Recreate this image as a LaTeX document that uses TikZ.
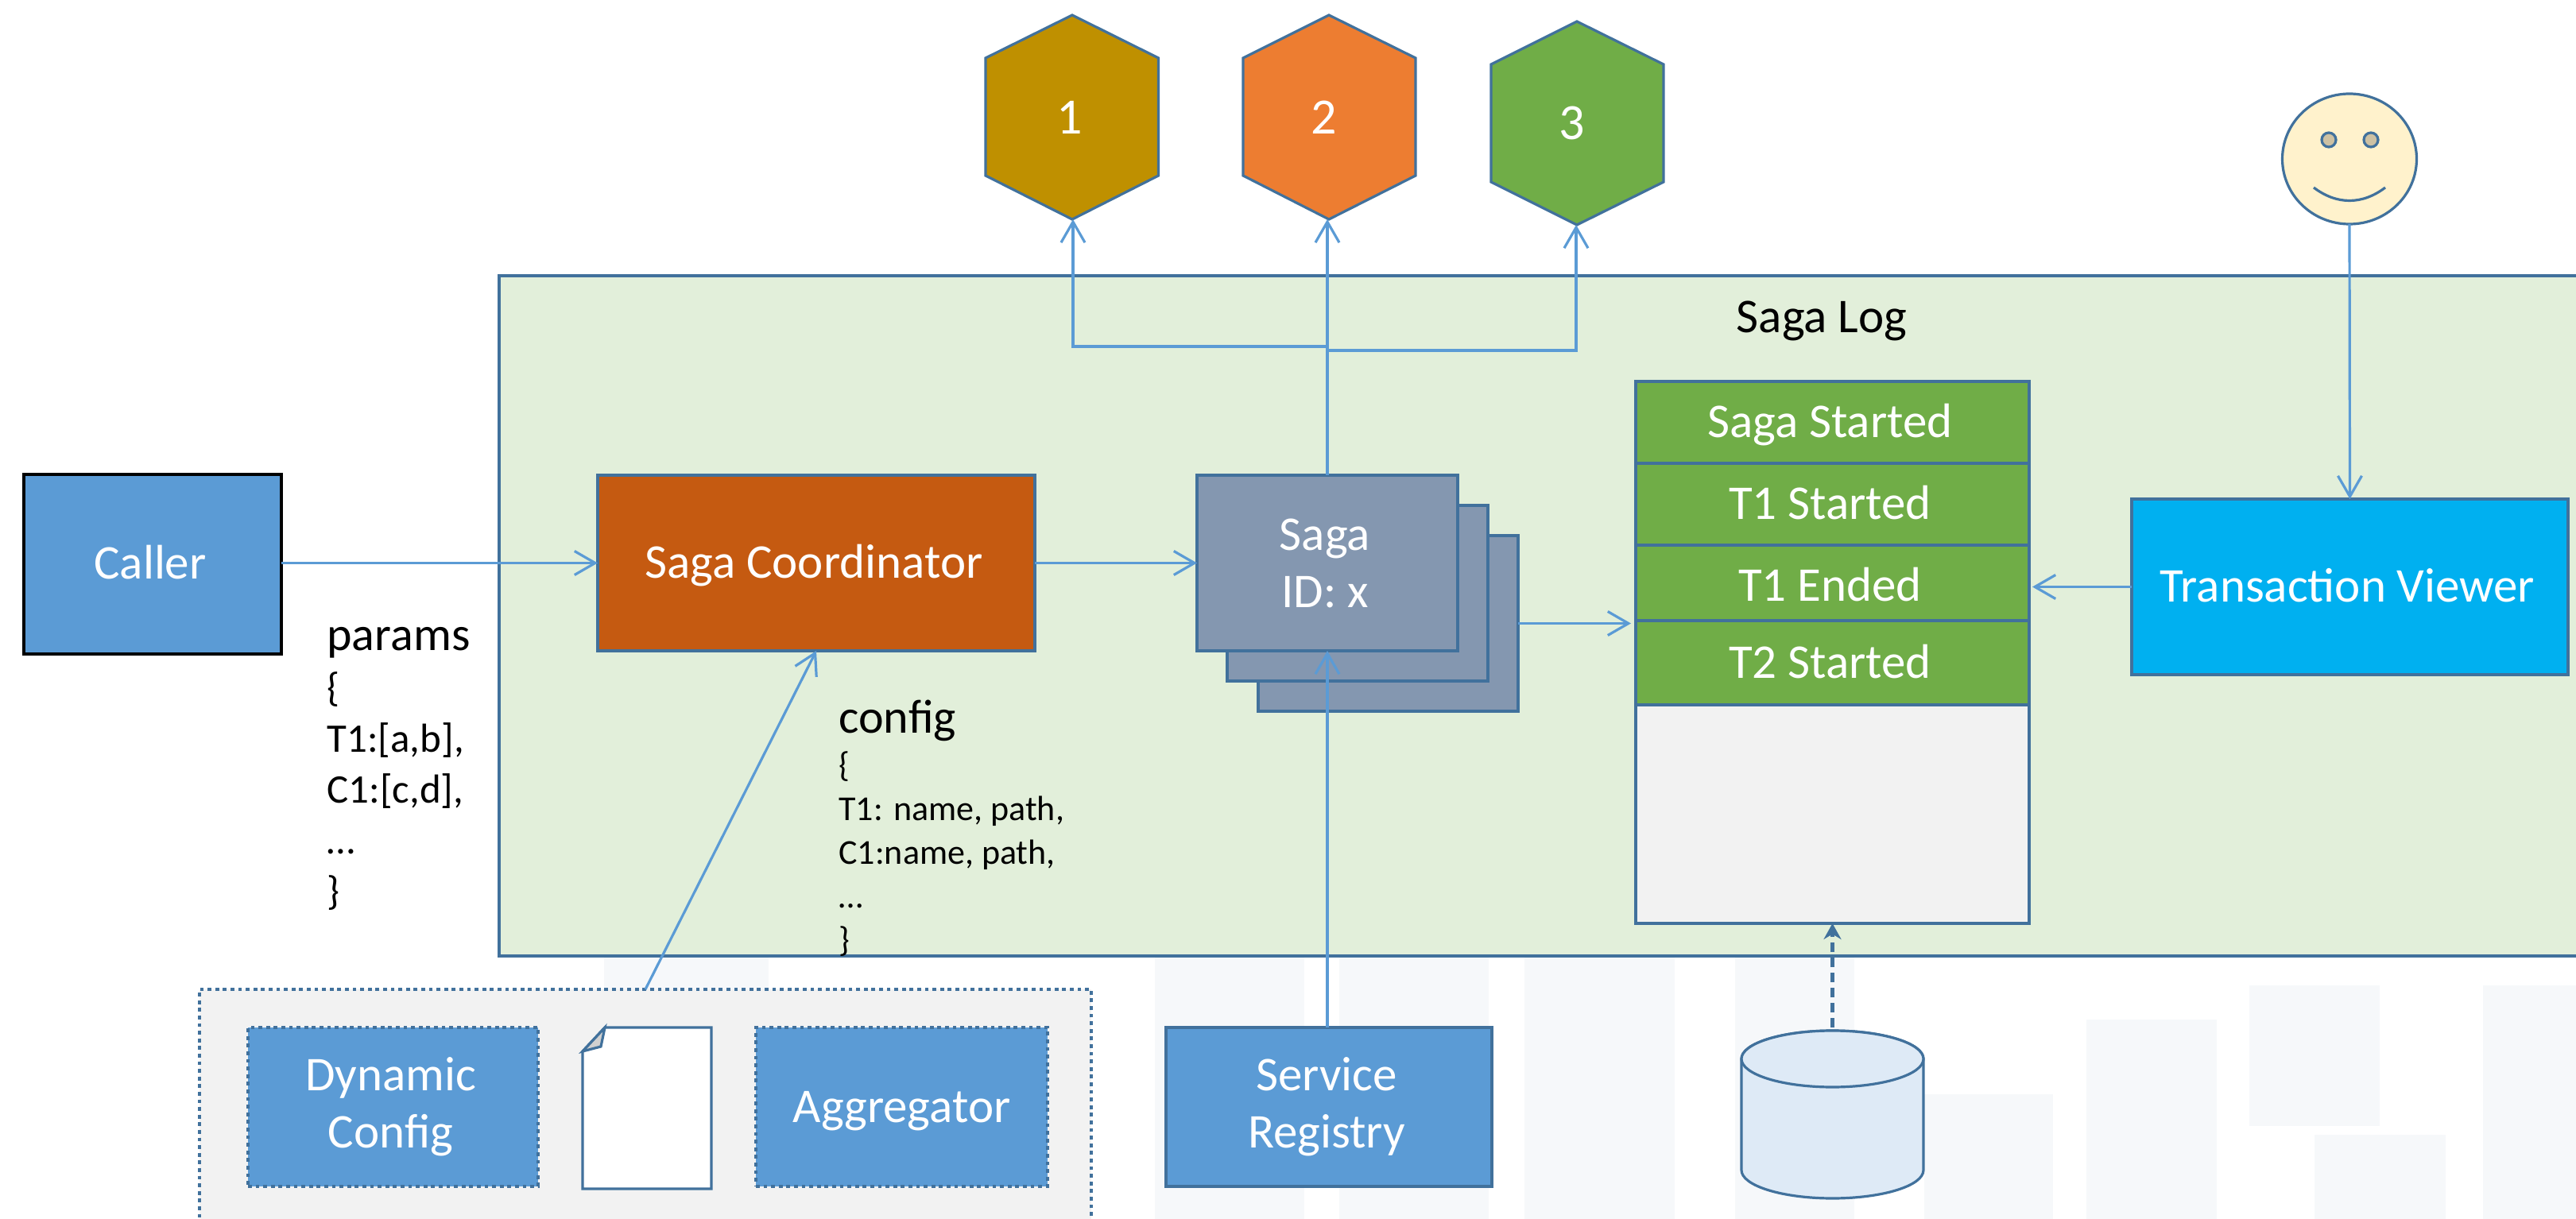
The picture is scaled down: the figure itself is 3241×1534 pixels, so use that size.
\documentclass[tikz,border=0pt]{standalone}
\usepackage{fontspec}
\setmainfont{Carlito}
\usetikzlibrary{arrows.meta,shapes.geometric}
\definecolor{bd}{HTML}{41719C}
\definecolor{ln}{HTML}{5B9BD5}
\definecolor{wm}{HTML}{F6F8FA}
\definecolor{saga}{HTML}{8497B0}
\definecolor{hexa}{HTML}{BF9000}
\definecolor{hexb}{HTML}{ED7D31}
\definecolor{hexc}{HTML}{70AD47}
\definecolor{areac}{HTML}{E2EFDA}
\definecolor{coordc}{HTML}{C55A11}
\definecolor{lightg}{HTML}{F2F2F2}
\definecolor{tvc}{HTML}{00B0F0}
\definecolor{facec}{HTML}{FFF2CC}
\definecolor{eyec}{HTML}{CDC1A3}
\definecolor{foldc}{HTML}{D0D0D0}
\definecolor{dbc}{HTML}{DEEAF6}
\newcommand{\tsh}[1]{#1\hspace*{3pt}}
\tikzset{
  x=0.5pt,y=-0.5pt,
  base/.style={draw=bd,line width=1.6pt,inner sep=0pt,outer sep=0pt,rectangle},
  boxed/.style={base,text=white,font=\fontsize{30.5}{36}\selectfont,align=center},
  oneline/.style={text height=19pt,text depth=0pt},
  bluebox/.style={boxed,fill=ln},
  dotbox/.style={bluebox,dash pattern=on 2.4pt off 2.4pt},
  sagabox/.style={boxed,fill=saga},
  rowbox/.style={boxed,oneline,fill=hexc,minimum width=247.5pt},
  hexshape/.style={draw=bd,line width=1.6pt},
  digit/.style={text=white,font=\fontsize{32}{36}\selectfont,inner sep=0pt},
  conn/.style={draw=ln,line width=1.6pt,-{Straight Barb[length=13pt,width=15pt,line width=1.6pt]}},
  note/.style={text=black,inner sep=0pt,align=left},
  bar/.style={fill=wm,draw=none},
}
\begin{document}
\begin{tikzpicture}
\path[use as bounding box,clip] (0,0) rectangle (3241,1534);
% watermark
\foreach \a/\b/\c/\d in {760/967/1200/1245,1453/1641/1200/1534,1685/1873/1200/1534,1918/2107/1200/1534,2183/2333/1200/1534,2421/2583/1377/1534,2625/2789/1283/1534,2830/2994/1240/1417,2912/3077/1428/1534,3124/3241/1240/1534}
  \fill[bar] (\a,\c) rectangle (\b,\d);
% saga log area
\node[base,fill=areac,minimum width=1336pt,minimum height=428pt] (area) at (1964,775) {};
\node[anchor=base,inner sep=0pt,font=\fontsize{30.5}{36}\selectfont] (arealabel) at (2292,419) {Saga Log};
% hexagons
\draw[hexshape,fill=hexa] (1349,19)--(1457.5,73)--(1457.5,221)--(1349,276)--(1240,221)--(1240,73)--cycle;
\draw[hexshape,fill=hexb] (1672,19)--(1781,73)--(1781,221)--(1672,276)--(1564,221)--(1564,73)--cycle;
\draw[hexshape,fill=hexc] (1984,27)--(2093,81)--(2093,229)--(1984,283)--(1876,229)--(1876,81)--cycle;
\node[digit] (hex1) at (1346,148) {1};
\node[digit] (hex2) at (1666,148) {2};
\node[digit] (hex3) at (1978,155) {3};
\coordinate (hex1b) at (1350,276);
\coordinate (hex2b) at (1670,276);
\coordinate (hex3b) at (1983,283);
\coordinate (j1) at (1670,436);
\coordinate (j3) at (1670,441);
% left
\node[bluebox,oneline,draw=black,minimum width=162pt,minimum height=113pt] (caller) at (192,710) {\tsh{Caller}};
\node[note,anchor=north west,font=\fontsize{25.5}{32}\selectfont] (params) at (411,789) {{\fontsize{30}{32}\selectfont params}\\\{\\T1:[a,b],\\C1:[c,d],\\…\\\}};
% coordinator
\node[boxed,oneline,fill=coordc,minimum width=275pt,minimum height=110.5pt] (coord) at (1027,708.5) {\tsh{Saga Coordinator}};
\node[note,anchor=north west,font=\fontsize{22}{27.5}\selectfont] (config) at (1055,881) {{\fontsize{30}{27.5}\selectfont config}\\\{\\T1: name, path,\\C1:name, path,\\…\\\}};
% saga stack
\node[sagabox,minimum width=163.5pt,minimum height=110.5pt] (saga3) at (1746.5,784.5) {};
\node[sagabox,minimum width=164pt,minimum height=110.5pt] (saga2) at (1708,746.5) {};
\node[sagabox,minimum width=164pt,minimum height=110.5pt] (saga1) at (1670,708.5) {\tsh{Saga}\\\tsh{ID: x}};
% log
\node[base,fill=lightg,minimum width=247.5pt,minimum height=341pt] (log) at (2305.5,821) {};
\node[rowbox,minimum height=51.5pt] (r1) at (2305.5,531.5) {\tsh{Saga Started}};
\node[rowbox,minimum height=51.5pt] (r2) at (2305.5,634.5) {\tsh{T1 Started}};
\node[rowbox,minimum height=47.5pt] (r3) at (2305.5,733.5) {\raisebox{-2pt}{\tsh{T1 Ended}}};
\node[rowbox,minimum height=53pt] (r4) at (2305.5,834) {\tsh{T2 Started}};
% viewer
\node[boxed,oneline,fill=tvc,minimum width=274.5pt,minimum height=110.5pt] (tv) at (2956.5,738.5) {\tsh{Transaction Viewer}};
% face
\node[base,ellipse,fill=facec,minimum width=84.5pt,minimum height=82pt] (face) at (2956,200) {};
\node[base,circle,fill=eyec,minimum size=9pt] (eye1) at (2930,176) {};
\node[base,circle,fill=eyec,minimum size=9pt] (eye2) at (2983,176) {};
\draw[bd,line width=1.6pt] (2911,236) .. controls (2940,258) and (2972,258) .. (3001,236);
% bottom group
\node[base,fill=lightg,dash pattern=on 2.4pt off 2.4pt,minimum width=561pt,minimum height=157.5pt] (group) at (812,1402.5) {};
\node[dotbox,minimum width=182.5pt,minimum height=100pt] (dyn) at (494.5,1393) {\tsh{Dynamic}\\\tsh{Config}};
\node[dotbox,oneline,minimum width=183.5pt,minimum height=100pt] (agg) at (1134.5,1393) {Aggregator};
\draw[hexshape,fill=white] (761,1293)--(895,1293)--(895,1496)--(733,1496)--(733,1323)--cycle;
\draw[hexshape,fill=foldc] (761,1293)--(756,1317)--(733,1323)--cycle;
\node[bluebox,minimum width=205pt,minimum height=100pt] (svc) at (1672,1393) {\tsh{Service}\\\tsh{Registry}};
% database
\draw[draw=bd,line width=1.6pt,fill=dbc] (2191,1332.5) -- (2191,1472.5) arc[start angle=180,end angle=360,x radius=57.25pt,y radius=17.75pt] -- (2420,1332.5) arc[start angle=0,end angle=180,x radius=57.25pt,y radius=17.75pt] -- cycle;
\node[base,ellipse,fill=dbc,minimum width=114.5pt,minimum height=35.5pt] (db) at (2305.5,1332.5) {};
% connectors
\draw[conn] (caller.east |- coord.west) -- (coord.west);
\draw[conn] (coord.east) -- (saga1.west);
\draw[conn] (saga1.north) -- (hex2b);
\draw[conn] (j1) -- (hex1b |- j1) -- (hex1b);
\draw[conn] (j3) -- (hex3b |- j3) -- (hex3b);
\draw[conn] (saga3.east) -- ([xshift=-3pt]saga3.east -| log.west);
\draw[conn] (tv.west) -- ([xshift=2pt]tv.west -| log.east);
\draw[conn] (face.south) -- (tv.north);
\draw[conn] (group.north) -- (coord.south);
\draw[conn] (saga1.south |- svc.north) -- (saga1.south);
\draw[draw=bd,line width=2.8pt,dash pattern=on 6pt off 3.5pt,-{Stealth[length=10pt,width=11pt]}] ([yshift=2pt]db.north) -- (log.south);
\end{tikzpicture}
\end{document}
